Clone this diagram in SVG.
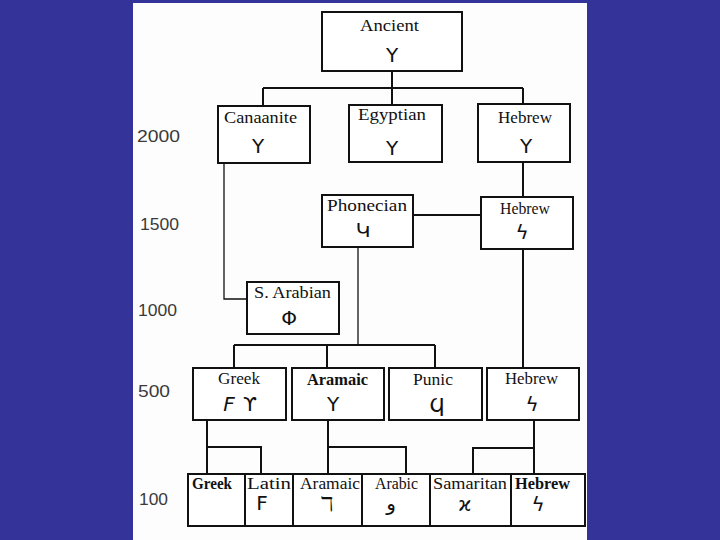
<svg xmlns="http://www.w3.org/2000/svg" width="720" height="540" viewBox="0 0 720 540">
<style>
.box{fill:#fff;stroke:#111;stroke-width:2}
.lbl{font-family:"Liberation Serif","Times New Roman",serif;font-size:17px;fill:#111;text-anchor:start}
.gl{font-family:"DejaVu Sans","Noto Sans",sans-serif;font-size:20px;fill:#111;text-anchor:middle}
.yr{font-family:"Liberation Sans",Arial,sans-serif;font-size:17px;fill:#3a3a3a}
.c{fill:none;stroke:#111;stroke-width:2}
.t{fill:none;stroke:#111;stroke-width:1.3}
</style>
<rect x="0" y="0" width="720" height="540" fill="#333399"/>
<rect x="133" y="3" width="454" height="537" fill="#fdfdfd"/>

<g id="years">
<text class="yr" x="137" y="142" textLength="43" lengthAdjust="spacingAndGlyphs">2000</text>
<text class="yr" x="140" y="230" textLength="39" lengthAdjust="spacingAndGlyphs">1500</text>
<text class="yr" x="138" y="316" textLength="39" lengthAdjust="spacingAndGlyphs">1000</text>
<text class="yr" x="138" y="397" textLength="32" lengthAdjust="spacingAndGlyphs">500</text>
<text class="yr" x="139" y="505" textLength="29" lengthAdjust="spacingAndGlyphs">100</text>
</g>

<g id="connectors">
<path class="c" d="M392 71 V88 M263 88 H523 M263 88 V106 M392 88 V105 M523 88 V104"/>
<path class="t" d="M224 163 V299 H247"/>
<path class="c" d="M523 162 V197 M523 249 V368"/>
<path class="c" d="M413 215 H481"/>
<path class="t" d="M358 247 V345"/>
<path class="c" d="M234 345 H435 M234 345 V368 M327 345 V368 M435 345 V368"/>
<path class="c" d="M207 420 V474 M207 447 H261 V474"/>
<path class="c" d="M328 420 V474 M328 447 H406 V474"/>
<path class="c" d="M534 420 V474 M534 448 H473 V474"/>
</g>

<g id="ancient">
<rect class="box" x="322" y="12" width="140" height="59"/>
<text class="lbl" x="360" y="31" textLength="59" lengthAdjust="spacingAndGlyphs">Ancient</text>
<text class="gl" x="392" y="62">Y</text>
</g>
<g id="canaanite">
<rect class="box" x="218" y="106" width="92" height="57"/>
<text class="lbl" x="224" y="123" textLength="73" lengthAdjust="spacingAndGlyphs">Canaanite</text>
<text class="gl" x="258" y="153">Y</text>
</g>
<g id="egyptian">
<rect class="box" x="349" y="105" width="93" height="57"/>
<text class="lbl" x="358" y="120" textLength="68" lengthAdjust="spacingAndGlyphs">Egyptian</text>
<text class="gl" x="392" y="155">Y</text>
</g>
<g id="hebrew-2000">
<rect class="box" x="478" y="104" width="92" height="58"/>
<text class="lbl" x="498" y="123" textLength="54" lengthAdjust="spacingAndGlyphs">Hebrew</text>
<text class="gl" x="526" y="153" fill="#555">Y</text>
</g>
<g id="phonecian">
<rect class="box" x="322" y="195" width="91" height="52"/>
<text class="lbl" x="327" y="211" textLength="80" lengthAdjust="spacingAndGlyphs">Phonecian</text>
<text class="gl" x="363" y="237">Կ</text>
</g>
<g id="hebrew-1500">
<rect class="box" x="481" y="197" width="92" height="52"/>
<text class="lbl" x="500" y="214" textLength="50" lengthAdjust="spacingAndGlyphs">Hebrew</text>
<text class="gl" x="522" y="239" font-size="18">ϟ</text>
</g>
<g id="s-arabian">
<rect class="box" x="247" y="282" width="92" height="52"/>
<text class="lbl" x="254" y="298" textLength="77" lengthAdjust="spacingAndGlyphs">S. Arabian</text>
<text class="gl" x="289" y="325" font-size="18">Φ</text>
</g>
<g id="greek-500">
<rect class="box" x="193" y="368" width="93" height="52"/>
<text class="lbl" x="218" y="384" textLength="42" lengthAdjust="spacingAndGlyphs">Greek</text>
<text class="gl" x="229" y="411" font-size="18" font-style="italic">F</text>
<text class="gl" x="250" y="411" font-size="18">ϒ</text>
</g>
<g id="aramaic-500">
<rect class="box" x="292" y="368" width="92" height="52"/>
<text class="lbl" x="307" y="385" textLength="61" lengthAdjust="spacingAndGlyphs" font-weight="bold">Aramaic</text>
<text class="gl" x="333" y="411" font-size="16">Y</text>
</g>
<g id="punic">
<rect class="box" x="389" y="368" width="93" height="52"/>
<text class="lbl" x="413" y="385" textLength="40" lengthAdjust="spacingAndGlyphs">Punic</text>
<text class="gl" x="437" y="412" font-size="18">Ϥ</text>
</g>
<g id="hebrew-500">
<rect class="box" x="487" y="368" width="92" height="52"/>
<text class="lbl" x="505" y="384" textLength="53" lengthAdjust="spacingAndGlyphs">Hebrew</text>
<text class="gl" x="532" y="411" font-size="18">ϟ</text>
</g>

<g id="row-100">
<rect class="box" x="188" y="474" width="397" height="52"/>
<path class="c" d="M245 474 V526 M293 474 V526 M362 474 V526 M430 474 V526 M511 474 V526"/>
</g>
<g id="greek-100">
<text class="lbl" x="192" y="489" textLength="40" lengthAdjust="spacingAndGlyphs" font-weight="bold">Greek</text>
</g>
<g id="latin">
<text class="lbl" x="247" y="489" textLength="44" lengthAdjust="spacingAndGlyphs">Latin</text>
<text class="gl" x="262" y="510" font-family="Liberation Sans,Arial,sans-serif" font-size="19">F</text>
</g>
<g id="aramaic-100">
<text class="lbl" x="300" y="489" textLength="60" lengthAdjust="spacingAndGlyphs">Aramaic</text>
<text class="gl" x="327" y="511" font-size="18">ℸ</text>
</g>
<g id="arabic">
<text class="lbl" x="375" y="489" textLength="43" lengthAdjust="spacingAndGlyphs">Arabic</text>
<text class="gl" x="391" y="510" font-size="15">و</text>
</g>
<g id="samaritan">
<text class="lbl" x="433" y="489" textLength="74" lengthAdjust="spacingAndGlyphs">Samaritan</text>
<text class="gl" x="465" y="511" font-size="13">ϰ</text>
</g>
<g id="hebrew-100">
<text class="lbl" x="515" y="489" textLength="55" lengthAdjust="spacingAndGlyphs" font-weight="bold">Hebrew</text>
<text class="gl" x="538" y="511" font-size="18">ϟ</text>
</g>
</svg>
